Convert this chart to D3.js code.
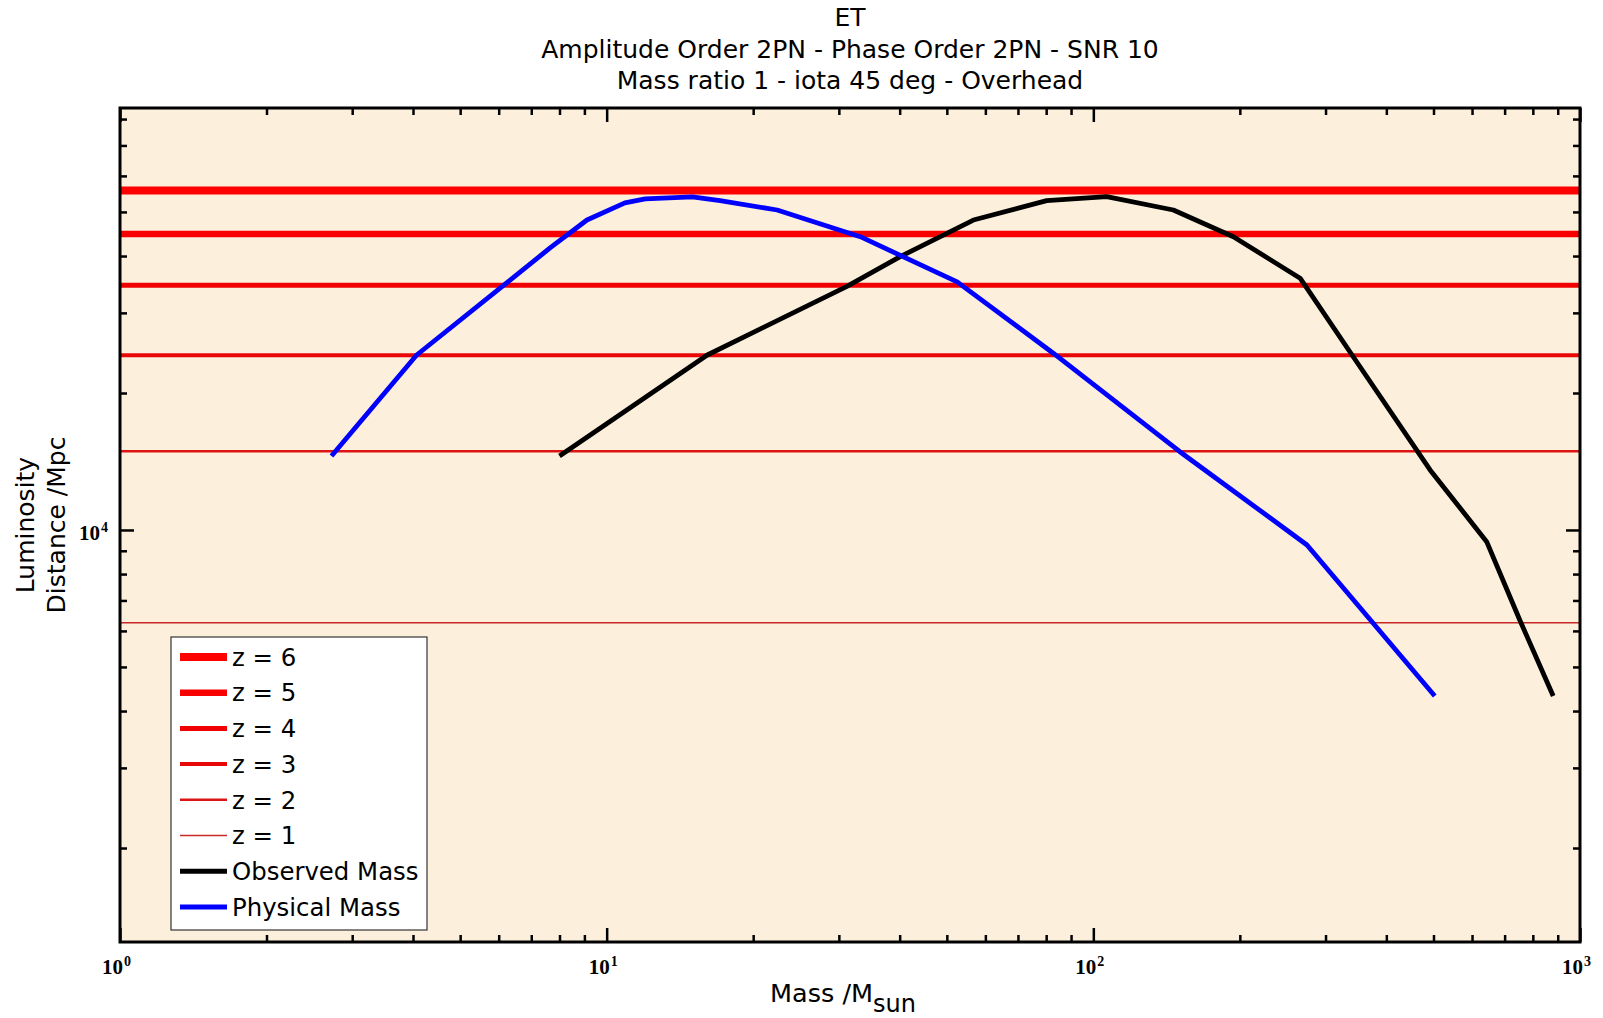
<!DOCTYPE html>
<html>
<head>
	<meta charset="utf-8">
	<script src="https://cdnjs.cloudflare.com/ajax/libs/d3/7.8.5/d3.min.js"></script>
	<style>
		body {
			margin: 0 ;
			background: #ffffff ;
		}
		svg {
			display: block ;
		}
		text {
			font-family: "DejaVu Sans", Verdana, sans-serif ;
			fill: #000000 ;
		}
	</style>
</head>
<body>
	<svg id="canvas"></svg>
<script>
	// chart text
	let titleLines = [
		"ET",
		"Amplitude Order 2PN - Phase Order 2PN - SNR 10",
		"Mass ratio 1 - iota 45 deg - Overhead"
	] ;
	let yLabelLines = [ "Luminosity", "Distance /Mpc" ] ;

	// redshift horizons (luminosity distance in Mpc)
	let redshifts = [ 6, 5, 4, 3, 2, 1 ] ;
	let zDistance = [ 55700, 44700, 34500, 24200, 14900, 6250 ] ;

	// horizon curves: mass (M_sun) and distance (Mpc)
	let observedMass = [ 8.0, 16.1, 31.1, 40.1, 56.7, 80.2, 106.5, 146, 194, 266, 342, 492, 643, 752, 881 ] ;
	let observedDist = [ 14540, 24240, 34250, 39870, 47990, 52930, 54010, 50490, 44110, 35750, 24030, 13550, 9425, 6342, 4317 ] ;
	let physicalMass = [ 2.72, 4.07, 6.23, 7.65, 9.11, 10.9, 12.0, 15.0, 17.1, 22.4, 33.2, 52.5, 82.6, 150.6, 274.8, 503 ] ;
	let physicalDist = [ 14540, 24240, 34910, 41670, 47990, 52330, 53400, 53950, 52930, 50490, 44110, 35090, 24490, 14860, 9270, 4317 ] ;

	// axes
	let xDomain = [ 1, 1000 ] ;
	let yDomain = [ 1243, 84600 ] ;
	let xMajorTicks = [ 1, 10, 100, 1000 ] ;
	let xTickExponents = [ "0", "1", "2", "3" ] ;
	let yMajorTicks = [ 10000 ] ;
	let yTickExponents = [ "4" ] ;

	let legendLabels = [ "z = 6", "z = 5", "z = 4", "z = 3", "z = 2", "z = 1", "Observed Mass", "Physical Mass" ] ;
</script>
<script>
	let geom = {
		width: 1603,
		height: 1018,
		left: 120,
		right: 1580,
		top: 108,
		bottom: 942
	} ;

	// line styles for the z = 6 .. z = 1 lines
	let zWidths = [ 8, 6.5, 5, 4, 2.5, 1.5 ] ;
	let zColors = [ '#ff0000', '#f80000', '#f00000', '#e80808', '#dc1414', '#c82828' ] ;

	let scales = {
		x: d3.scaleLog()
			.domain( xDomain )
			.range( [ geom.left, geom.right ] ),
		y: d3.scaleLog()
			.domain( yDomain )
			.range( [ geom.bottom, geom.top ] )
	} ;

	let svg = d3.select( '#canvas' )
		.attr( 'width', geom.width )
		.attr( 'height', geom.height ) ;

	// plot background
	svg.append( 'rect' )
		.attr( 'x', geom.left )
		.attr( 'y', geom.top )
		.attr( 'width', geom.right - geom.left )
		.attr( 'height', geom.bottom - geom.top )
		.attr( 'fill', '#fcefdc' ) ;

	// minor tick values, 2..9 inside each decade
	let minorTicks = function( domain ) {
		let out = [] ;
		let lo = Math.floor( Math.log10( domain[0] ) ) ;
		let hi = Math.ceil( Math.log10( domain[1] ) ) ;
		for( let p = lo ; p < hi ; p++ ) {
			for( let k = 2 ; k <= 9 ; k++ ) {
				let v = k * Math.pow( 10, p ) ;
				if( v > domain[0] && v < domain[1] ) out.push( v ) ;
			}
		}
		return out ;
	} ;

	let tidy = function( g, width ) {
		g.select( '.domain' ).remove() ;
		g.selectAll( 'line' ).attr( 'stroke', '#000' ).attr( 'stroke-width', width ) ;
	} ;

	// bottom / top axes
	svg.append( 'g' )
		.attr( 'transform', 'translate(0,' + geom.bottom + ')' )
		.call( d3.axisBottom( scales.x ).tickValues( minorTicks( xDomain ) ).tickSize( -7 ).tickFormat( '' ) )
		.call( g => tidy( g, 2.5 ) ) ;
	let xaxis = svg.append( 'g' )
		.attr( 'class', 'xaxis' )
		.attr( 'transform', 'translate(0,' + geom.bottom + ')' )
		.call( d3.axisBottom( scales.x ).tickValues( xMajorTicks ).tickSize( -14 ).tickPadding( 17 ).tickFormat( () => '10' ) )
		.call( g => tidy( g, 2.5 ) ) ;
	svg.append( 'g' )
		.attr( 'transform', 'translate(0,' + geom.top + ')' )
		.call( d3.axisTop( scales.x ).tickValues( minorTicks( xDomain ) ).tickSize( -7 ).tickFormat( '' ) )
		.call( g => tidy( g, 2.5 ) ) ;
	svg.append( 'g' )
		.attr( 'transform', 'translate(0,' + geom.top + ')' )
		.call( d3.axisTop( scales.x ).tickValues( xMajorTicks ).tickSize( -14 ).tickFormat( '' ) )
		.call( g => tidy( g, 2.5 ) ) ;

	// left / right axes
	svg.append( 'g' )
		.attr( 'transform', 'translate(' + geom.left + ',0)' )
		.call( d3.axisLeft( scales.y ).tickValues( minorTicks( yDomain ) ).tickSize( -7 ).tickFormat( '' ) )
		.call( g => tidy( g, 2.5 ) ) ;
	let yaxis = svg.append( 'g' )
		.attr( 'class', 'yaxis' )
		.attr( 'transform', 'translate(' + geom.left + ',0)' )
		.call( d3.axisLeft( scales.y ).tickValues( yMajorTicks ).tickSize( -14 ).tickPadding( 12 ).tickFormat( () => '10' ) )
		.call( g => tidy( g, 2.5 ) ) ;
	svg.append( 'g' )
		.attr( 'transform', 'translate(' + geom.right + ',0)' )
		.call( d3.axisRight( scales.y ).tickValues( minorTicks( yDomain ) ).tickSize( -7 ).tickFormat( '' ) )
		.call( g => tidy( g, 2.5 ) ) ;
	svg.append( 'g' )
		.attr( 'transform', 'translate(' + geom.right + ',0)' )
		.call( d3.axisRight( scales.y ).tickValues( yMajorTicks ).tickSize( -14 ).tickFormat( '' ) )
		.call( g => tidy( g, 2.5 ) ) ;

	// tick labels: 10 with a raised exponent
	let powerLabels = function( axis, exps ) {
		axis.selectAll( '.tick text' )
			.style( 'font-family', '"Liberation Serif", "Times New Roman", serif' )
			.style( 'font-size', '21px' )
			.style( 'font-weight', 'bold' )
			.each( function( d, i ) {
				let t = d3.select( this ) ;
				t.append( 'tspan' )
					.attr( 'dy', '-0.55em' )
					.attr( 'dx', '1' )
					.style( 'font-size', '14px' )
					.text( exps[i] ) ;
			} ) ;
	} ;
	powerLabels( xaxis, xTickExponents ) ;
	powerLabels( yaxis, yTickExponents ) ;
	xaxis.selectAll( '.tick text' ).attr( 'dx', -4 ) ;
	yaxis.selectAll( '.tick text' ).attr( 'dy', '0.45em' ) ;

	// redshift lines
	let zLines = svg.append( 'g' ).attr( 'class', 'zlines' ) ;
	zLines.selectAll( 'line' )
		.data( zDistance )
		.join( 'line' )
		.attr( 'x1', scales.x( xDomain[0] ) )
		.attr( 'x2', scales.x( xDomain[1] ) )
		.attr( 'y1', d => scales.y( d ) )
		.attr( 'y2', d => scales.y( d ) )
		.attr( 'stroke', ( d, i ) => zColors[i] )
		.attr( 'stroke-width', ( d, i ) => zWidths[i] ) ;

	// curves
	let lf = d3.line()
		.x( d => scales.x( d[0] ) )
		.y( d => scales.y( d[1] ) ) ;

	svg.append( 'path' )
		.attr( 'd', lf( d3.zip( observedMass, observedDist ) ) )
		.attr( 'fill', 'none' )
		.attr( 'stroke', '#000000' )
		.attr( 'stroke-width', 4.8 )
		.attr( 'stroke-linejoin', 'round' ) ;

	svg.append( 'path' )
		.attr( 'd', lf( d3.zip( physicalMass, physicalDist ) ) )
		.attr( 'fill', 'none' )
		.attr( 'stroke', '#0000ff' )
		.attr( 'stroke-width', 4.8 )
		.attr( 'stroke-linejoin', 'round' ) ;

	// frame
	svg.append( 'rect' )
		.attr( 'x', geom.left )
		.attr( 'y', geom.top )
		.attr( 'width', geom.right - geom.left )
		.attr( 'height', geom.bottom - geom.top )
		.attr( 'fill', 'none' )
		.attr( 'stroke', '#000' )
		.attr( 'stroke-width', 3 ) ;

	// title
	svg.append( 'g' )
		.selectAll( 'text' )
		.data( titleLines )
		.join( 'text' )
		.attr( 'x', ( geom.left + geom.right ) / 2 )
		.attr( 'y', ( d, i ) => 26 + i * 31.5 )
		.attr( 'text-anchor', 'middle' )
		.attr( 'font-size', 25 )
		.text( d => d ) ;

	// axis labels
	svg.append( 'g' )
		.selectAll( 'text' )
		.data( yLabelLines )
		.join( 'text' )
		.attr( 'transform', ( d, i ) => 'translate(' + ( 34 + i * 31 ) + ',' + ( ( geom.top + geom.bottom ) / 2 ) + ') rotate(-90)' )
		.attr( 'text-anchor', 'middle' )
		.attr( 'font-size', 25 )
		.text( d => d ) ;

	let xlabel = svg.append( 'text' )
		.attr( 'x', 843 )
		.attr( 'y', 1002 )
		.attr( 'text-anchor', 'middle' )
		.attr( 'font-size', 25.5 )
		.text( 'Mass /M' ) ;
	xlabel.append( 'tspan' )
		.attr( 'dy', 10 )
		.attr( 'font-size', 24 )
		.text( 'sun' ) ;

	// legend
	let legend = svg.append( 'g' ).attr( 'class', 'legend' ) ;
	legend.append( 'rect' )
		.attr( 'x', 171 )
		.attr( 'y', 637 )
		.attr( 'width', 256 )
		.attr( 'height', 293 )
		.attr( 'fill', '#ffffff' )
		.attr( 'stroke', '#333333' )
		.attr( 'stroke-width', 1.2 ) ;

	let legendColors = zColors.concat( [ '#000000', '#0000ff' ] ) ;
	let legendWidths = zWidths.concat( [ 5, 5 ] ) ;
	let rows = legend.selectAll( 'g.row' )
		.data( legendLabels )
		.join( 'g' )
		.attr( 'class', 'row' )
		.attr( 'transform', ( d, i ) => 'translate(0,' + ( 657 + i * 35.7 ) + ')' ) ;
	rows.append( 'line' )
		.attr( 'x1', 180 )
		.attr( 'x2', 227 )
		.attr( 'stroke', ( d, i ) => legendColors[i] )
		.attr( 'stroke-width', ( d, i ) => legendWidths[i] ) ;
	rows.append( 'text' )
		.attr( 'x', 232 )
		.attr( 'y', 8.7 )
		.attr( 'font-size', 24.4 )
		.text( d => d ) ;
</script>
</body>
</html>
